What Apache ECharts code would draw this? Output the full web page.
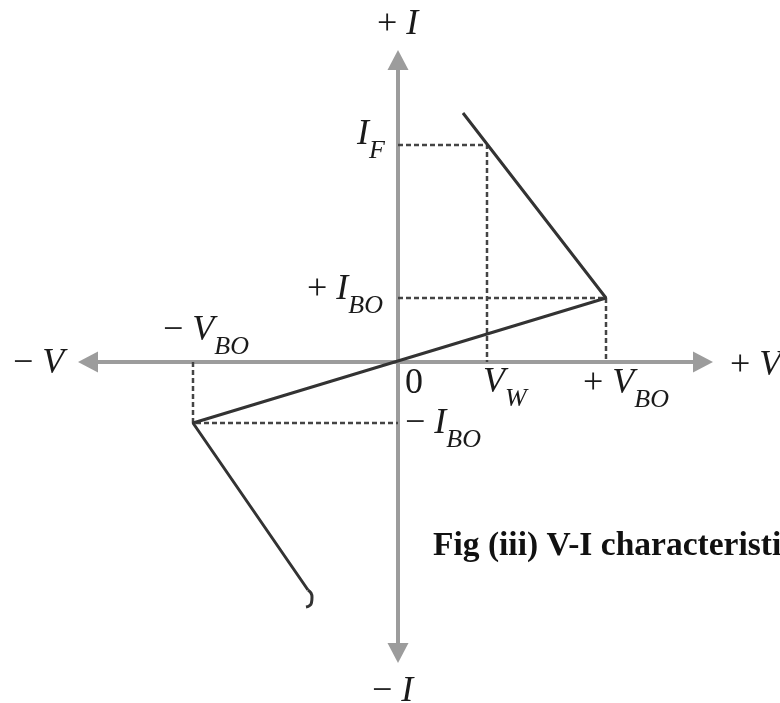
<!DOCTYPE html>
<html>
<head>
<meta charset="utf-8">
<style>
  html, body { margin: 0; padding: 0; background: #fff; }
  #chart { width: 780px; height: 703px; }
</style>
<script src="https://cdn.jsdelivr.net/npm/echarts@6/dist/echarts.min.js"></script>
</head>
<body>
<div id="chart"></div>
<script>
// break-over / working points (V, I)
const vBreakOver = 10.4
const iBreakOver = 3.2
const vBreakOverNeg = -10.25
const iBreakOverNeg = -3.05
const vWorking = 4.45
const iForward = 10.85

// characteristic branches
const upperBranch = [ [ 3.25, 12.45 ], [ vBreakOver, iBreakOver ] ]
const lowerBranch = [ [ vBreakOverNeg, iBreakOverNeg ], [ -4.5, -11.4 ] ]
const lowerHook = [ [ -4.5, -11.4 ], [ -4.3, -11.75 ], [ -4.33, -12.05 ], [ -4.6, -12.25 ] ]

// dotted projection lines
const guideLines = [
  [ [ 0, iForward ], [ vWorking, iForward ], [ vWorking, 0 ] ],
  [ [ 0, iBreakOver ], [ vBreakOver, iBreakOver ], [ vBreakOver, 0 ] ],
  [ [ vBreakOverNeg, 0 ], [ vBreakOverNeg, iBreakOverNeg ], [ 0, iBreakOverNeg ] ]
]

const xRange = [ -15.5, 15.25 ]
const yRange = [ -14.55, 15.1 ]

// axis / point labels
const labelTexts = {
  plusI : '{n|+ }{i|I}',
  minusI : '{n|− }{i|I}',
  minusV : '{n|− }{i|V}',
  plusV : '{n|+ }{i|V}',
  iF : '{i|I}{s|F}',
  plusIbo : '{n|+ }{i|I}{s|BO}',
  minusVbo : '{n|− }{i|V}{s|BO}',
  zero : '{n|0}',
  vW : '{i|V}{s|W}',
  plusVbo : '{n|+ }{i|V}{s|BO}',
  minusIbo : '{n|− }{i|I}{s|BO}'
}
const caption = 'Fig (iii) V-I characteristics'

const chart = echarts.init( document.getElementById( 'chart' ) )

const curveColor = '#333'
const axisColor = '#9c9c9c'
const serif = '"Liberation Serif", "DejaVu Serif", serif'

const series = [
  {
    type : 'line',
    data : [ ...upperBranch, ...lowerBranch ],
    symbol : 'none',
    lineStyle : { color : curveColor, width : 3 },
    z : 4
  },
  {
    type : 'line',
    data : lowerHook,
    symbol : 'none',
    smooth : 0.6,
    lineStyle : { color : curveColor, width : 3 },
    z : 4
  }
]
guideLines.forEach( pts => {
  series.push( {
    type : 'line',
    data : pts,
    symbol : 'none',
    lineStyle : { color : '#444', width : 2.5, type : [ 5, 3 ] },
    z : 3
  } )
} )

const axisBase = {
  type : 'value',
  axisTick : { show : false },
  axisLabel : { show : false },
  splitLine : { show : false },
  axisLine : {
    onZero : true,
    symbol : [ 'triangle', 'triangle' ],
    symbolSize : [ 21, 20 ],
    lineStyle : { color : axisColor, width : 4 }
  }
}

chart.setOption( {
  animation : false,
  backgroundColor : '#fff',
  grid : { left : 88, right : 77, top : 60, bottom : 50 },
  xAxis : { ...axisBase, min : xRange[0], max : xRange[1] },
  yAxis : { ...axisBase, min : yRange[0], max : yRange[1] },
  series
} )

const rich = {
  n : { fontFamily : serif, fontSize : 36, lineHeight : 36, verticalAlign : 'top', fill : '#1a1a1a' },
  i : { fontFamily : serif, fontSize : 36, lineHeight : 36, fontStyle : 'italic', verticalAlign : 'top', fill : '#1a1a1a' },
  s : { fontFamily : serif, fontSize : 26, lineHeight : 26, fontStyle : 'italic', padding : [ 21, 0, 0, 0 ], verticalAlign : 'top', fill : '#1a1a1a' }
}

// anchor each label to a point on the axes, nudged in pixels
const placements = [
  { key : 'plusI', at : [ 0, yRange[1] ], dx : -21, dy : -35 },
  { key : 'minusI', at : [ 0, yRange[0] ], dx : -26, dy : 39 },
  { key : 'minusV', at : [ xRange[0], 0 ], dx : -75, dy : 2 },
  { key : 'plusV', at : [ xRange[1], 0 ], dx : 27, dy : 4 },
  { key : 'iF', at : [ 0, iForward ], dx : -41, dy : -10 },
  { key : 'plusIbo', at : [ 0, iBreakOver ], dx : -91, dy : -8 },
  { key : 'minusVbo', at : [ vBreakOverNeg, 0 ], dx : -30, dy : -31 },
  { key : 'zero', at : [ 0, 0 ], dx : 7, dy : 22 },
  { key : 'vW', at : [ vWorking, 0 ], dx : -4, dy : 21 },
  { key : 'plusVbo', at : [ vBreakOver, 0 ], dx : -23, dy : 22 },
  { key : 'minusIbo', at : [ 0, iBreakOverNeg ], dx : 7, dy : 1 }
]

const graphics = placements.map( p => {
  const pt = chart.convertToPixel( { gridIndex : 0 }, p.at )
  return {
    type : 'text',
    x : pt[0] + p.dx,
    y : pt[1] + p.dy - 18,
    z : 10,
    style : { text : labelTexts[p.key], rich, align : 'left', verticalAlign : 'top', fill : '#1a1a1a' }
  }
} )

const origin = chart.convertToPixel( { gridIndex : 0 }, [ 0, 0 ] )
graphics.push( {
  type : 'text',
  x : origin[0] + 35,
  y : origin[1] + 185 - 18,
  z : 10,
  style : { text : caption, font : 'bold 33.5px ' + serif, fill : '#111', align : 'left', verticalAlign : 'top' }
} )

chart.setOption( { graphic : graphics } )
</script>
</body>
</html>
